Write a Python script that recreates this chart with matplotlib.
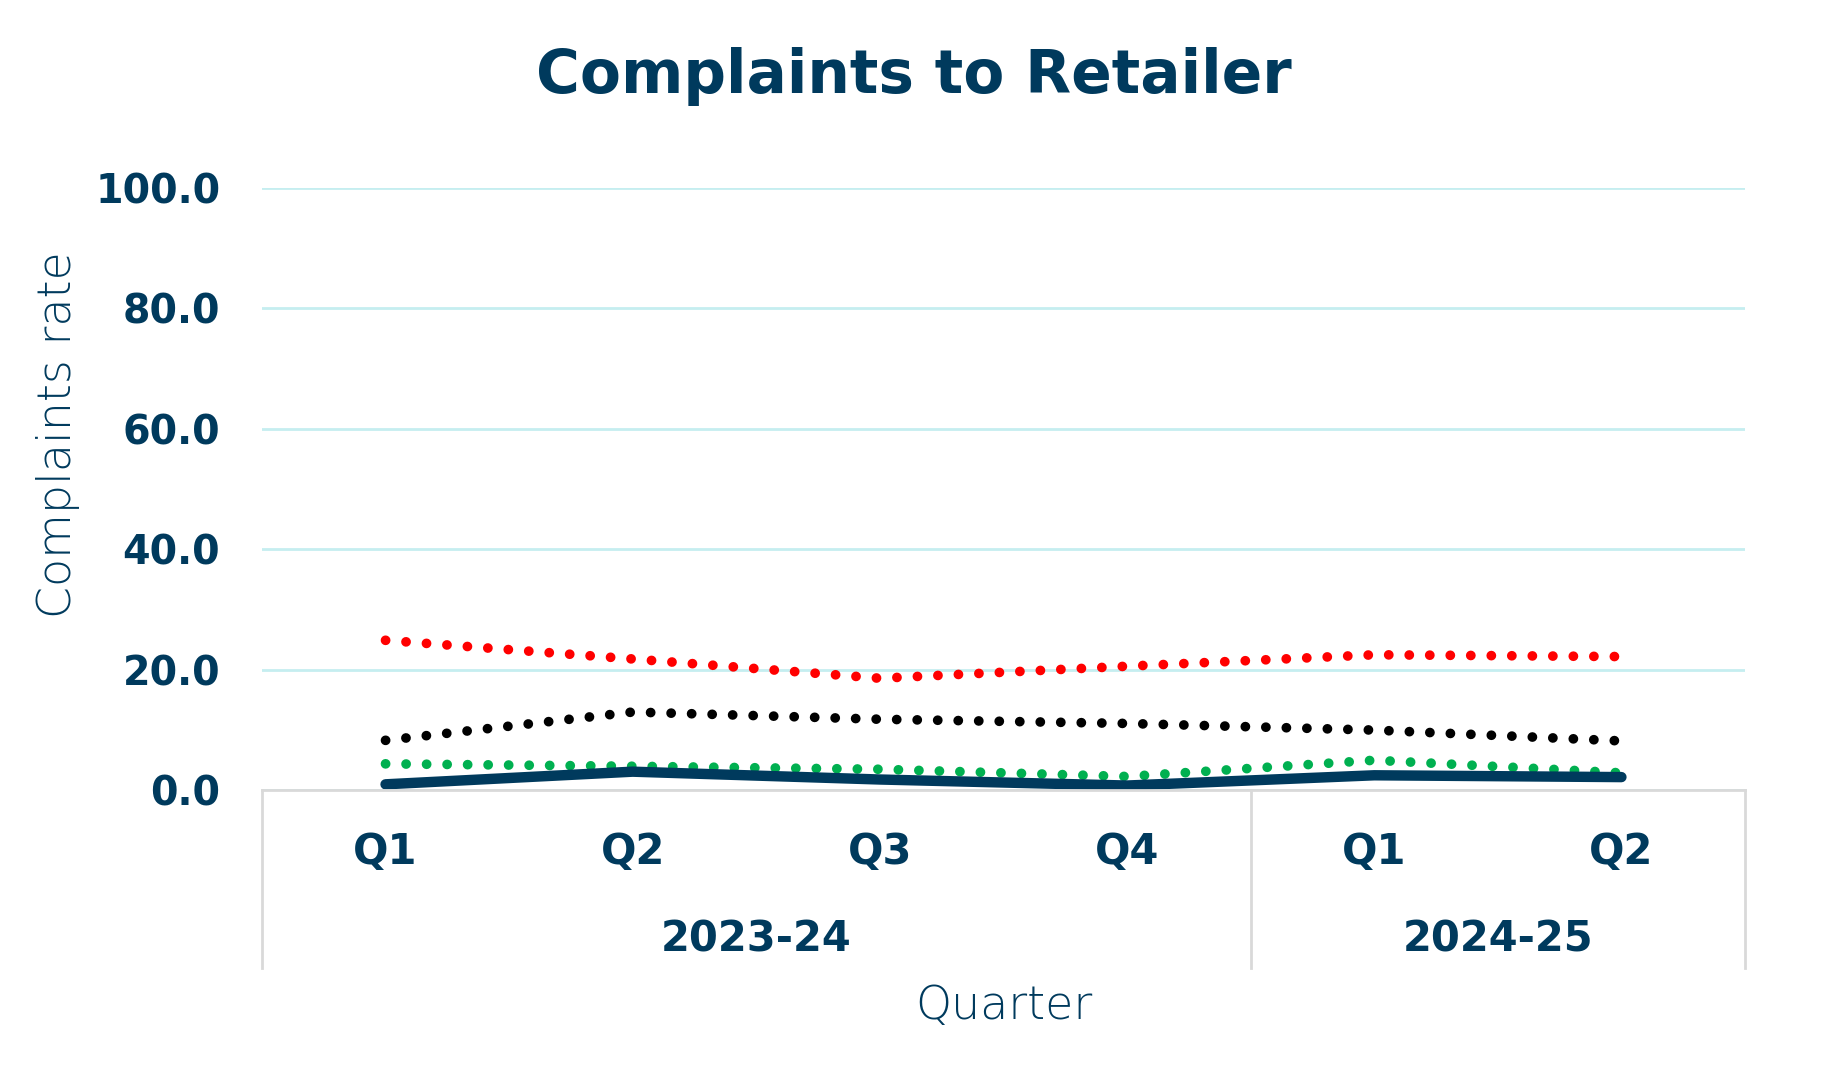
import numpy as np
import matplotlib.pyplot as plt
from matplotlib import transforms

# data
quarters = ['Q1', 'Q2', 'Q3', 'Q4', 'Q1', 'Q2']
years = ['2023-24', '2024-25']
year_span = [(0, 3), (4, 5)]
red_vals = [24.9, 21.8, 18.6, 20.6, 22.5, 22.2]
black_vals = [8.3, 13.0, 11.8, 11.1, 10.0, 8.2]
green_vals = [4.4, 4.0, 3.5, 2.3, 5.0, 2.9]
navy_vals = [1.0, 3.1, 1.8, 0.8, 2.5, 2.2]
yticks = [0, 20, 40, 60, 80, 100]

navy = '#003A5D'
plt.rcParams['font.family'] = ['DejaVu Sans']

fig = plt.figure(figsize=(18.28, 10.87), dpi=100)
ax = fig.add_axes([0.1433, 0.2729, 0.8113, 0.5544])

x = np.arange(len(quarters))
dot = dict(linestyle=(0, (0.01, 2.1)), dash_capstyle='round', linewidth=7)
ax.plot(x, red_vals, color='#FF0000', **dot)
ax.plot(x, black_vals, color='#000000', **dot)
ax.plot(x, green_vals, color='#00B050', **dot)
ax.plot(x, navy_vals, color=navy, linewidth=7.5, solid_capstyle='round')

ax.set_xlim(-0.5, len(quarters) - 0.5)
ax.set_ylim(0, 100)
ax.set_yticks(yticks)
ax.set_yticklabels(['%.1f' % v for v in yticks], fontsize=28.5, fontweight='bold', color=navy)
ax.tick_params(axis='y', length=0, pad=30)
ax.set_xticks([])
ax.grid(axis='y', color='#C5EEF0', linewidth=2)
ax.set_axisbelow(True)
for s in ['top', 'right', 'left']:
    ax.spines[s].set_visible(False)
ax.spines['bottom'].set_color('#D9D9D9')
ax.spines['bottom'].set_linewidth(2)

# multi level category axis
tr = transforms.blended_transform_factory(ax.transData, ax.transAxes)
for xs in [-0.5, 3.5, 5.5]:
    ax.plot([xs, xs], [0, -0.295], transform=tr, color='#D9D9D9', linewidth=2, clip_on=False)
for i, q in enumerate(quarters):
    ax.text(i, -0.102, q, transform=tr, ha='center', va='center', fontsize=30,
            fontweight='bold', color=navy)
for (a, b), yr in zip(year_span, years):
    ax.text((a + b) / 2, -0.248, yr, transform=tr, ha='center', va='center', fontsize=30,
            fontweight='bold', color=navy)
ax.text(0.5, -0.358, 'Quarter', transform=ax.transAxes, ha='center', va='center',
        fontsize=33, color=navy, fontweight='light')

fig.text(0.032, 0.60, 'Complaints rate', rotation=90, ha='center', va='center',
         fontsize=33, color=navy, fontweight='light')
fig.text(0.5, 0.93, 'Complaints to Retailer', ha='center', va='center', fontsize=43,
         fontweight='bold', color=navy)

fig.savefig('out.png', dpi=100)
